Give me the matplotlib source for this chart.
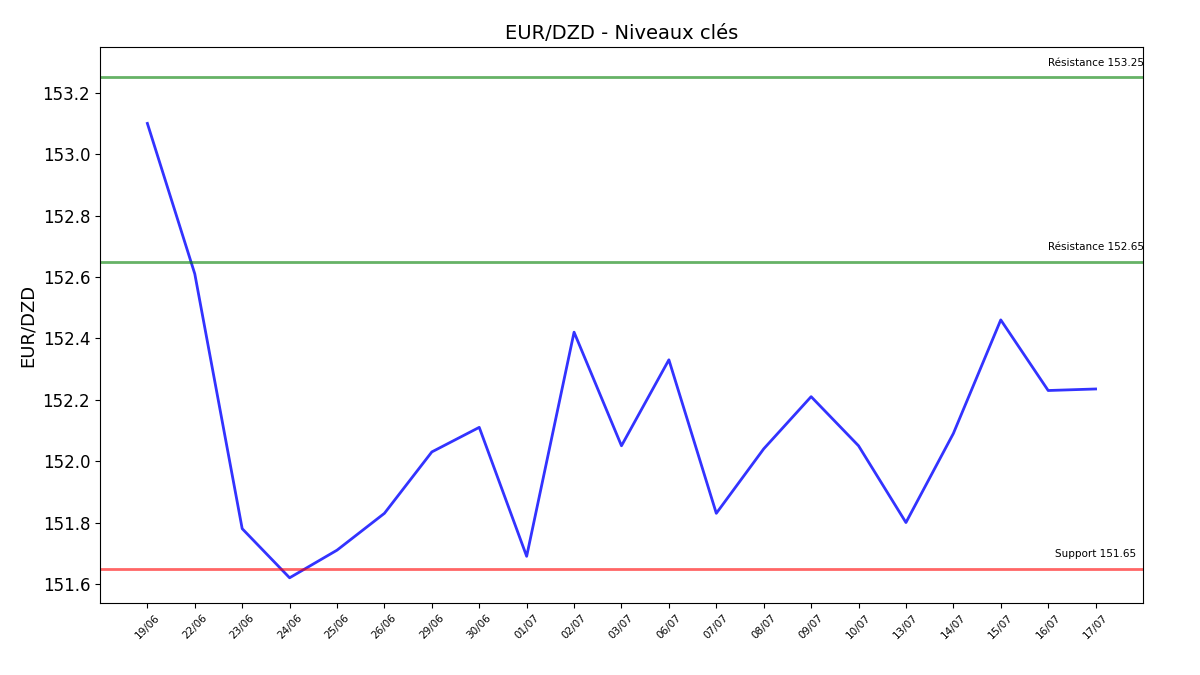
import matplotlib.pyplot as plt
from matplotlib.ticker import MultipleLocator

dates = ['19/06', '22/06', '23/06', '24/06', '25/06', '26/06', '29/06', '30/06',
         '01/07', '02/07', '03/07', '06/07', '07/07', '08/07', '09/07', '10/07',
         '13/07', '14/07', '15/07', '16/07', '17/07']
rates = [153.10, 152.61, 151.78, 151.62, 151.71, 151.83, 152.03, 152.11,
         151.69, 152.42, 152.05, 152.33, 151.83, 152.04, 152.21, 152.05,
         151.80, 152.09, 152.46, 152.23, 152.235]

resistances = [153.25, 152.65]
supports = [151.65]

fig = plt.figure(figsize=(12, 6.75), dpi=100)
ax = fig.add_axes([0.0833, 0.1067, 0.8692, 0.8233])

x = list(range(len(dates)))
ax.plot(x, rates, color='blue', alpha=0.8, linewidth=2)

# niveaux cles
for r in resistances:
    ax.axhline(r, color='green', alpha=0.6, linewidth=2)
    ax.text(x[-1], r + 0.03, f'Résistance {r:.2f}', ha='center', va='bottom', fontsize=7.5)
for s in supports:
    ax.axhline(s, color='red', alpha=0.6, linewidth=2)
    ax.text(x[-1], s + 0.03, f'Support {s:.2f}', ha='center', va='bottom', fontsize=7.5)

ax.set_ylim(151.538, 153.348)
ax.yaxis.set_major_locator(MultipleLocator(0.2))
ax.set_xticks(x)
ax.set_xticklabels(dates, rotation=45, fontsize=7.5)
ax.tick_params(axis='y', labelsize=12)
ax.set_ylabel('EUR/DZD', fontsize=13)
ax.set_title('EUR/DZD - Niveaux clés', fontsize=14)

fig.savefig('out.png')
